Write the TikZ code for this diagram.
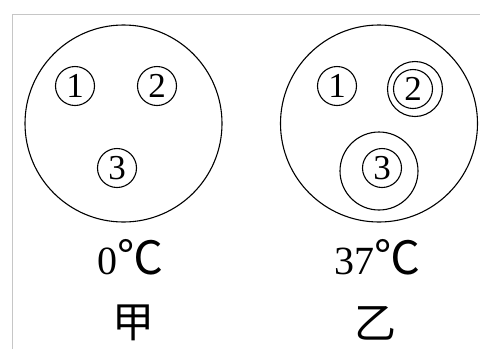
\documentclass[tikz,border=0pt]{standalone}
\usepackage{fontspec}
\setmainfont{Liberation Serif}
\newfontfamily\cjk{Noto Sans CJK SC}
\begin{document}
\begin{tikzpicture}[x=1pt,y=-1pt,
  cnum/.style={circle,draw,line width=1.1pt,minimum size=39pt,inner sep=0pt,font=\fontsize{35}{35}\selectfont},
  big/.style={circle,draw,line width=1.1pt,inner sep=0pt},
  lab/.style={inner sep=0pt,font=\fontsize{40}{40}\selectfont},
  cjklab/.style={inner sep=0pt,font=\cjk\fontsize{42}{42}\selectfont}]
\useasboundingbox (0,0) rectangle (480,349);
\draw[gray!45,line width=1pt] (12,349) -- (12,14) -- (480,14);
% left
\node[big,minimum size=197pt] (A) at (123.5,123.5) {};
\node[cnum] (a1) at (75,86) {1};
\node[cnum] (a2) at (157,86) {2};
\node[cnum] (a3) at (117,168) {3};
\node[lab] (t0) at (130,257) {0{\cjk\fontsize{46}{46}\selectfont ℃}};
\node[cjklab] (jia) at (133,323) {甲};
% right
\node[big,minimum size=197pt] (B) at (379,123.5) {};
\node[cnum] (b1) at (337,86) {1};
\node[big,minimum size=55pt] (b2o) at (415,89) {};
\node[cnum] (b2) at (413,89) {2};
\node[big,minimum size=78pt] (b3o) at (379,171) {};
\node[cnum] (b3) at (382,168) {3};
\node[lab] (t37) at (377,257) {37{\cjk\fontsize{46}{46}\selectfont ℃}};
\node[cjklab] (yi) at (375,323) {乙};
\end{tikzpicture}
\end{document}
